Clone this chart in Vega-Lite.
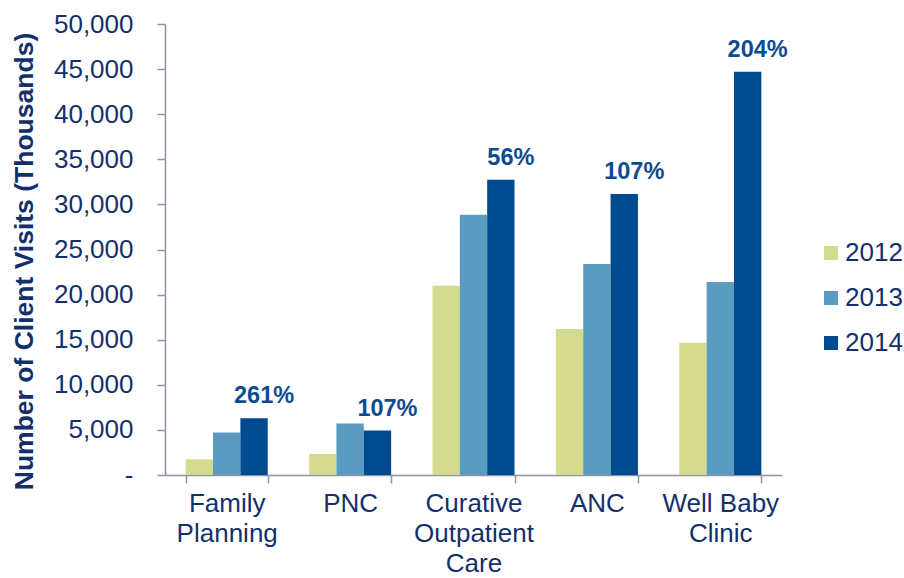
{
  "$schema": "https://vega.github.io/schema/vega-lite/v6.json",
  "autosize": {"type": "none"},
  "width": 617,
  "height": 451,
  "padding": {"left": 165, "top": 24, "right": 122, "bottom": 103},
  "background": "white",
  "config": {
    "font": "Liberation Sans",
    "view": {"stroke": null}
  },
  "data": {
    "values": [
      {"service": "Family Planning", "year": "2012", "visits": 1740},
      {"service": "Family Planning", "year": "2013", "visits": 4700},
      {"service": "Family Planning", "year": "2014", "visits": 6290, "label": "261%"},
      {"service": "PNC", "year": "2012", "visits": 2330},
      {"service": "PNC", "year": "2013", "visits": 5700},
      {"service": "PNC", "year": "2014", "visits": 4920, "label": "107%"},
      {"service": "Curative Outpatient Care", "year": "2012", "visits": 20980},
      {"service": "Curative Outpatient Care", "year": "2013", "visits": 28860},
      {"service": "Curative Outpatient Care", "year": "2014", "visits": 32740, "label": "56%"},
      {"service": "ANC", "year": "2012", "visits": 16200},
      {"service": "ANC", "year": "2013", "visits": 23390},
      {"service": "ANC", "year": "2014", "visits": 31150, "label": "107%"},
      {"service": "Well Baby Clinic", "year": "2012", "visits": 14650},
      {"service": "Well Baby Clinic", "year": "2013", "visits": 21390},
      {"service": "Well Baby Clinic", "year": "2014", "visits": 44700, "label": "204%"}
    ]
  },
  "encoding": {
    "x": {
      "field": "service",
      "type": "nominal",
      "sort": ["Family Planning", "PNC", "Curative Outpatient Care", "ANC", "Well Baby Clinic"],
      "scale": {"paddingInner": 0.335, "paddingOuter": 0.1675},
      "axis": {
        "title": null,
        "labelAngle": 0,
        "labelFontSize": 26,
        "labelColor": "#14306B",
        "labelLineHeight": 30,
        "labelPadding": 7,
        "labelExpr": "datum.value == 'Family Planning' ? ['Family', 'Planning'] : datum.value == 'Curative Outpatient Care' ? ['Curative', 'Outpatient', 'Care'] : datum.value == 'Well Baby Clinic' ? ['Well Baby', 'Clinic'] : datum.value",
        "domainColor": "#8C92A8",
        "domainWidth": 1.5,
        "tickColor": "#8C92A8",
        "tickWidth": 1.5,
        "tickSize": 8,
        "tickBand": "extent"
      }
    },
    "xOffset": {"field": "year", "type": "nominal", "scale": {"domain": ["2012", "2013", "2014"], "paddingInner": 0, "paddingOuter": 0}},
    "y": {
      "field": "visits",
      "type": "quantitative",
      "scale": {"domain": [0, 50000], "nice": false},
      "axis": {
        "title": "Number of Client Visits (Thousands)",
        "titleFontSize": 26.5,
        "titleFontWeight": "bold",
        "titleColor": "#14306B",
        "titleX": -133,
        "titleY": 237,
        "titleBaseline": "alphabetic",
        "titleAlign": "center",
        "titleAngle": -90,
        "values": [0, 5000, 10000, 15000, 20000, 25000, 30000, 35000, 40000, 45000, 50000],
        "labelExpr": "datum.value == 0 ? '-\u00a0\u00a0' : format(datum.value, ',')",
        "labelFontSize": 26,
        "labelColor": "#14306B",
        "labelPadding": 24,
        "grid": false,
        "domainColor": "#8C92A8",
        "domainWidth": 1.5,
        "tickColor": "#8C92A8",
        "tickWidth": 1.5,
        "tickSize": 8
      }
    }
  },
  "layer": [
    {
      "mark": {"type": "bar"},
      "encoding": {
        "color": {
          "field": "year",
          "type": "nominal",
          "scale": {"domain": ["2012", "2013", "2014"], "range": ["#D4DB8F", "#5A9BBF", "#004A8F"]},
          "legend": {
            "title": null,
            "orient": "none",
            "legendX": 653,
            "legendY": 216,
            "symbolType": "square",
            "symbolSize": 196,
            "symbolStrokeWidth": 0,
            "labelFontSize": 26,
            "labelColor": "#14306B",
            "labelOffset": 1,
            "rowPadding": 19
          }
        }
      }
    },
    {
      "transform": [{"filter": "datum.label"}],
      "mark": {"type": "text", "fontSize": 23.5, "fontWeight": "bold", "color": "#0B4B8F", "baseline": "alphabetic", "dy": -15, "dx": 10},
      "encoding": {"text": {"field": "label", "type": "nominal"}}
    }
  ]
}
